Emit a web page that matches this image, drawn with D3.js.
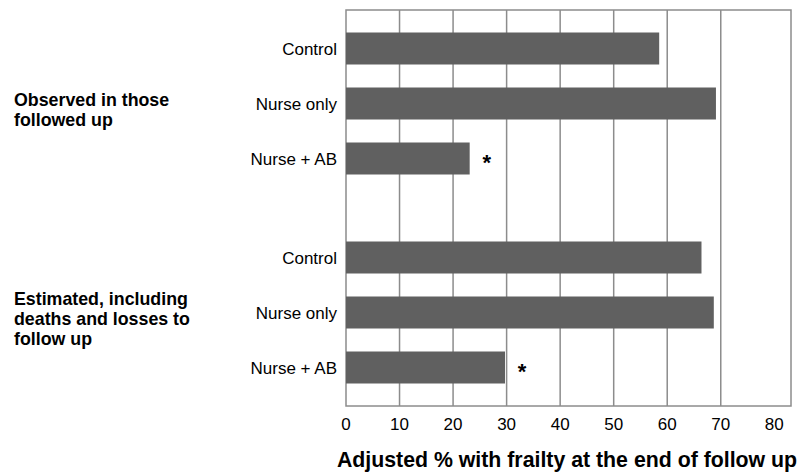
<!DOCTYPE html>
<html>
<head>
<meta charset="utf-8">
<script src="https://cdn.jsdelivr.net/npm/d3@7"></script>
<style>
  html, body { margin: 0; padding: 0; background: #fff; }
  svg { display: block; font-family: "Liberation Sans", Arial, sans-serif; }
</style>
</head>
<body>
<svg id="chart" width="799" height="472"></svg>
<script>
// ---- data ----
const groups = [
  ["Observed in those", "followed up"],
  ["Estimated, including", "deaths and losses to", "follow up"]
];
const categories = ["Control", "Nurse only", "Nurse + AB"];
const observedValues = [58.5, 69.1, 23.1];
const estimatedValues = [66.4, 68.7, 29.7];
const significant = [false, false, true];
const xTicks = [0, 10, 20, 30, 40, 50, 60, 70, 80];
const xTitle = "Adjusted % with frailty at the end of follow up";

(function () {
// build rows
const groupStart = [0, 3.8];
const seriesValues = [observedValues, estimatedValues];
const rows = [];
seriesValues.forEach((vals, g) => {
  vals.forEach((v, i) => {
    rows.push({ group: g, cat: categories[i], value: v, sig: significant[i], pos: groupStart[g] + i });
  });
});

const svg = d3.select("#chart");
const pLeft = 346, pRight = 791, pTop = 10, pBottom = 406;

const x = d3.scaleLinear().domain([0, 80]).range([pLeft, 774.3]);
const y = d3.scaleLinear().domain([-0.7, 6.5]).range([pTop, pBottom]);
const barH = 32;

// gridlines
svg.append("g").selectAll("line")
  .data(xTicks.filter(t => t > 0 && t < 80))
  .join("line")
  .attr("x1", d => x(d)).attr("x2", d => x(d))
  .attr("y1", pTop).attr("y2", pBottom)
  .attr("stroke", "#8c8c8c").attr("stroke-width", 1.5);

// frame
svg.append("rect")
  .attr("x", pLeft).attr("y", pTop)
  .attr("width", pRight - pLeft).attr("height", pBottom - pTop)
  .attr("fill", "none").attr("stroke", "#8c8c8c").attr("stroke-width", 1.5);

// bars
svg.append("g").selectAll("rect")
  .data(rows)
  .join("rect")
  .attr("x", x(0))
  .attr("y", d => y(d.pos) - barH / 2)
  .attr("width", d => x(d.value) - x(0))
  .attr("height", barH)
  .attr("fill", "#606060");

// significance stars
svg.append("g").selectAll("text")
  .data(rows.filter(d => d.sig))
  .join("text")
  .attr("x", d => x(d.value) + 17)
  .attr("y", d => y(d.pos) + 11)
  .attr("text-anchor", "middle")
  .attr("font-size", 22)
  .attr("font-weight", "bold")
  .attr("fill", "#000")
  .text("*");

// category labels
svg.append("g").selectAll("text")
  .data(rows)
  .join("text")
  .attr("x", 337)
  .attr("y", d => y(d.pos) + 6)
  .attr("text-anchor", "end")
  .attr("font-size", 17)
  .attr("fill", "#000")
  .text(d => d.cat);

// group labels
groups.forEach((lines, g) => {
  const c = y(groupStart[g] + 1);
  const t = svg.append("text")
    .attr("x", 14)
    .attr("font-size", 17.8)
    .attr("font-weight", "bold")
    .attr("fill", "#000");
  lines.forEach((ln, i) => {
    t.append("tspan")
      .attr("x", 14)
      .attr("y", c + 12 - (lines.length - 1) * 10 + i * 20)
      .text(ln);
  });
});

// x axis tick labels
svg.append("g").selectAll("text")
  .data(xTicks)
  .join("text")
  .attr("x", d => x(d))
  .attr("y", 430)
  .attr("text-anchor", "middle")
  .attr("font-size", 17)
  .attr("fill", "#000")
  .text(d => d);

// x title
svg.append("text")
  .attr("x", 567)
  .attr("y", 467)
  .attr("text-anchor", "middle")
  .attr("font-size", 21.3)
  .attr("font-weight", "bold")
  .attr("fill", "#000")
  .text(xTitle);
})();
</script>
</body>
</html>
